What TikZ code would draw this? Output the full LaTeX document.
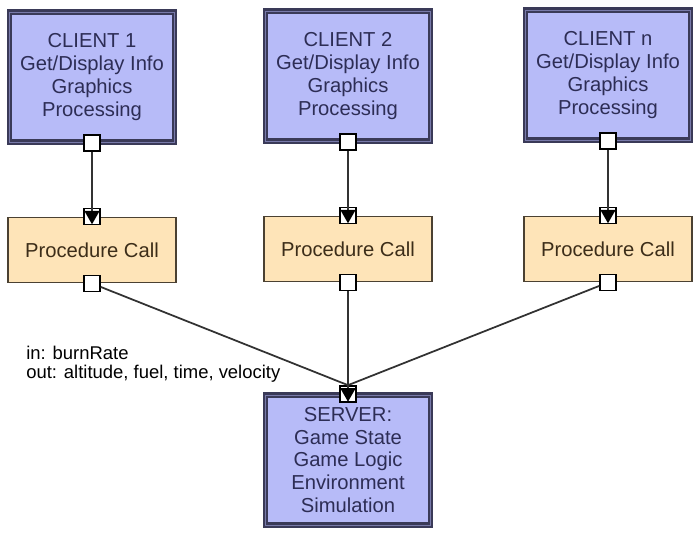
\documentclass[tikz,border=0pt]{standalone}
\usepackage{fontspec}
\setmainfont{Liberation Sans}
\usetikzlibrary{arrows.meta}

\definecolor{clientfill}{RGB}{183,187,248}
\definecolor{clientedge}{RGB}{58,58,88}
\definecolor{clientline}{RGB}{120,122,170}
\definecolor{clienttext}{RGB}{45,45,85}
\definecolor{procfill}{RGB}{254,228,184}
\definecolor{procedge}{RGB}{75,65,50}
\definecolor{proctext}{RGB}{60,45,25}
\definecolor{wire}{RGB}{50,50,50}

\begin{document}
\begin{tikzpicture}[x=0.02cm, y=-0.02cm,
	client/.style={rectangle, draw=clientedge, fill=clientfill, line width=1.2pt, double=clientline, double distance=0.5pt, minimum width=3.3cm, minimum height=2.6cm, align=center, text=clienttext, font=\fontsize{11.5}{13}\selectfont},
	proc/.style={rectangle, draw=procedge, fill=procfill, line width=1.1pt, minimum width=3.36cm, minimum height=1.3cm, text=proctext, font=\fontsize{11.5}{13}\selectfont},
	port/.style={rectangle, draw=black, fill=white, line width=0.9pt, minimum size=0.32cm, inner sep=0pt},
	wire/.style={draw=wire, line width=1pt},
	call/.style={wire, -{Triangle[width=3mm,length=2.7mm,color=black]}, shorten >=0.6pt}]
	\useasboundingbox (0,0) rectangle (700,532);

	\node at (92,77) [client] (c1) {CLIENT 1\\Get/Display Info\\Graphics\\Processing};
	\node at (348,76) [client] (c2) {CLIENT 2\\Get/Display Info\\Graphics\\Processing};
	\node at (608,75) [client] (c3) {CLIENT n\\Get/Display Info\\Graphics\\Processing};
	\node at (92,250) [proc] (r1) {Procedure Call};
	\node at (348,249) [proc] (r2) {Procedure Call};
	\node at (608,249) [proc] (r3) {Procedure Call};
	\node at (348,460) [client] (s) {SERVER:\\Game State\\Game Logic\\Environment\\Simulation};

	\node at (c1.south) [port] (o1) {};
	\node at (c2.south) [port] (o2) {};
	\node at (c3.south) [port] (o3) {};
	\node at (r1.north) [port] (i1) {};
	\node at (r2.north) [port] (i2) {};
	\node at (r3.north) [port] (i3) {};
	\node at (r1.south) [port] (q1) {};
	\node at (r2.south) [port] (q2) {};
	\node at (r3.south) [port] (q3) {};
	\node at (s.north) [port] (sp) {};

	\node at (26,364) [anchor=west, align=left, inner sep=0pt, font=\fontsize{10.5}{10.8}\selectfont] (lbl) {in: burnRate\\out: altitude, fuel, time, velocity};

	\draw [call] (o1) -- (i1.south);
	\draw [call] (o2) -- (i2.south);
	\draw [call] (o3) -- (i3.south);
	\draw [wire] (q1) -- (sp.north);
	\draw [wire] (q3) -- (sp.north);
	\draw [call] (q2) -- (sp.south);
\end{tikzpicture}
\end{document}
